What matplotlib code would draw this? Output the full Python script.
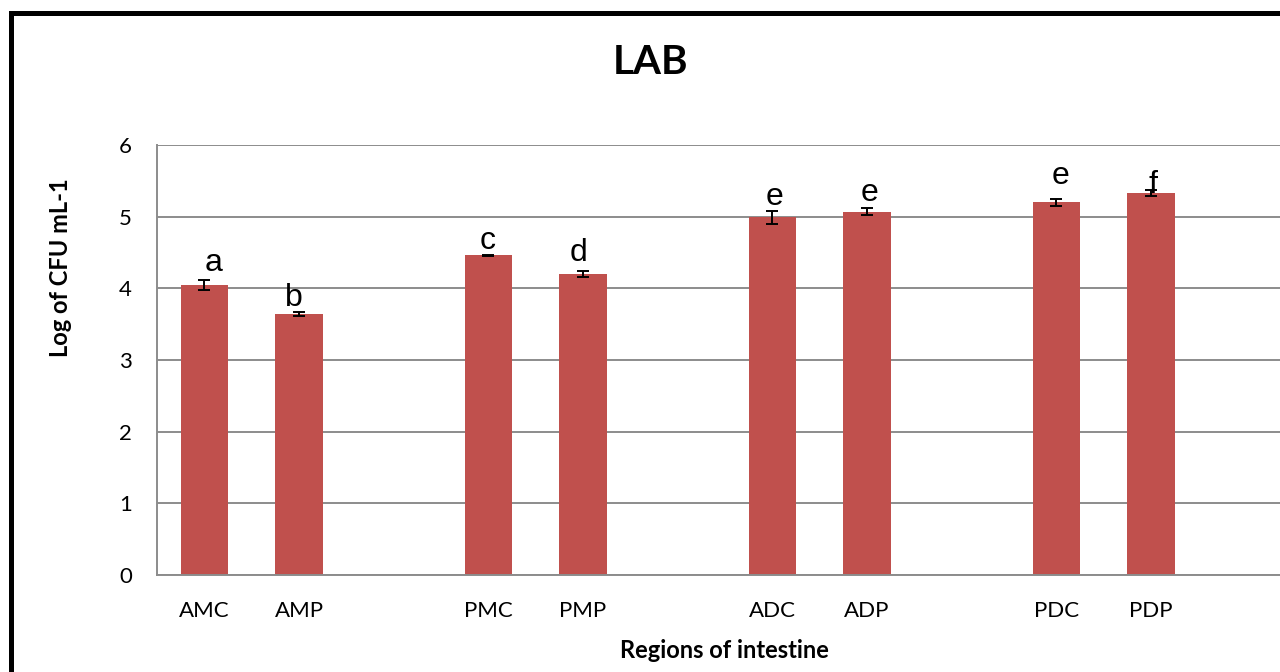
import matplotlib
matplotlib.use('Agg')
import matplotlib.pyplot as plt
from matplotlib.patches import Rectangle

# LAB counts per intestine region (log CFU/mL), with SE and letter groups
regions = ['AMC', 'AMP', 'PMC', 'PMP', 'ADC', 'ADP', 'PDC', 'PDP']
log_cfu = [4.04, 3.64, 4.46, 4.20, 4.99, 5.07, 5.20, 5.33]
errors = [0.07, 0.03, 0.01, 0.045, 0.09, 0.045, 0.05, 0.04]
letters = ['a', 'b', 'c', 'd', 'e', 'e', 'e', 'f']

# slot index of each bar (an empty slot between the pairs)
slots = [0, 1, 3, 4, 6, 7, 9, 10]
# letter offsets from the bar top, in pixels
label_dx = [9, -5, -1, -4, 2, 3, 4, 2]
label_dy = [14, 8, 6, 13, 12, 11, 18, 0]

bar_color = '#C0504D'
grid_color = '#8C8C8C'
calibri = ['Lato', 'DejaVu Sans']

fig = plt.figure(figsize=(12.8, 6.72), dpi=100)
ax = fig.add_axes([157 / 1280, 97 / 672, 1136 / 1280, 430 / 672])

ax.bar(slots, log_cfu, width=0.5, color=bar_color, zorder=2)
ax.errorbar(slots, log_cfu, yerr=errors, fmt='none', ecolor='black',
            elinewidth=1.4, capsize=4.5, capthick=1.4, zorder=3)

for x, v, t, dx, dy in zip(slots, log_cfu, letters, label_dx, label_dy):
    ax.annotate(t, (x, v), xytext=(dx, dy), textcoords='offset pixels',
                ha='center', va='baseline', fontsize=23,
                family=['Liberation Sans', 'DejaVu Sans'], zorder=4)

ax.set_xlim(-0.5, 11.5)
ax.set_ylim(0, 6)
ax.set_yticks(range(0, 7))
ax.set_xticks(slots)
ax.set_xticklabels(regions)
ax.yaxis.grid(True, color=grid_color, linewidth=1.4, zorder=0)
ax.set_axisbelow(True)

for side in ['top', 'right']:
    ax.spines[side].set_visible(False)
for side in ['left', 'bottom']:
    ax.spines[side].set_color(grid_color)
    ax.spines[side].set_linewidth(1.4)

ax.tick_params(axis='both', length=0, labelsize=16)
ax.tick_params(axis='y', pad=18)
ax.tick_params(axis='x', pad=19)
for lab in ax.get_xticklabels() + ax.get_yticklabels():
    lab.set_family(calibri)

fig.text(651 / 1280, 1 - 63 / 672, 'LAB', ha='center', va='center',
         fontsize=29, fontweight='bold', family=calibri)
fig.text(724 / 1280, 1 - 650 / 672, 'Regions of intestine', ha='center',
         va='center', fontsize=17, fontweight='bold', family=calibri)
fig.text(60 / 1280, 1 - 268 / 672, 'Log of CFU mL-1', ha='center',
         va='center', rotation=90, fontsize=17, fontweight='bold',
         family=calibri)

# chart frame, running off the right and bottom edges
fig.patches.append(Rectangle((10.5 / 1280, -0.2), 1.2, 1.2 - 12.5 / 672,
                             transform=fig.transFigure, fill=False,
                             edgecolor='black', linewidth=3.6))

fig.savefig('out.png', dpi=100)
